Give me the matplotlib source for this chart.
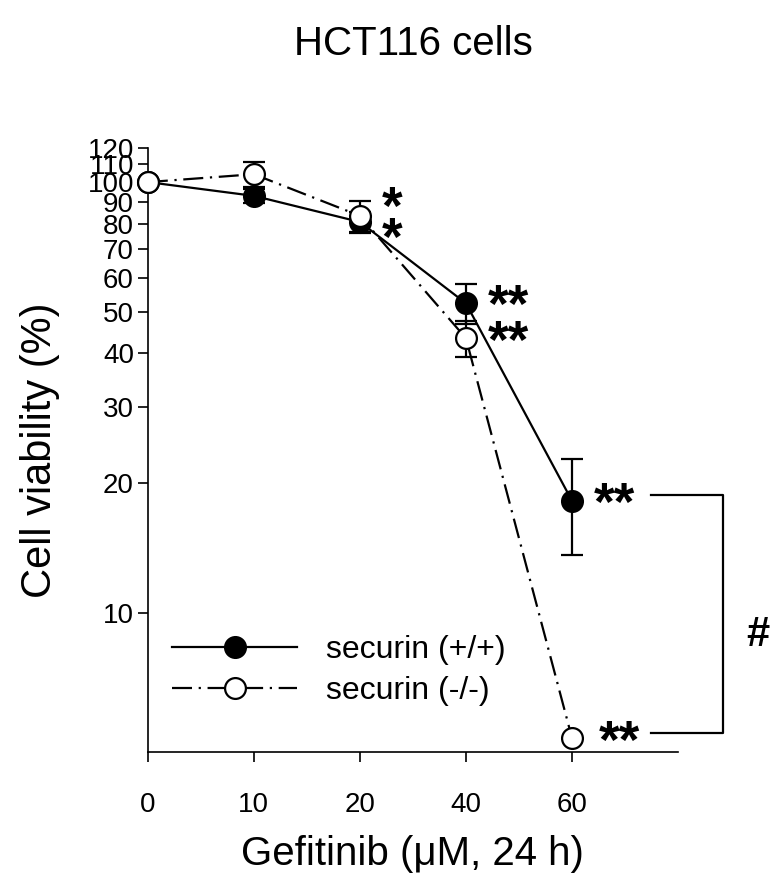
import numpy as np
import matplotlib
matplotlib.use("Agg")
import matplotlib.pyplot as plt
from matplotlib.lines import Line2D

plt.rcParams['font.family'] = ['Liberation Sans', 'DejaVu Sans']

doses = ['0', '10', '20', '40', '60']
wt_mean = [100, 92.9, 80.8, 52.3, 18.2]
wt_err = [0, 3.5, 4.6, 5.6, 4.6]
ko_mean = [100, 104.3, 83.5, 43.4, 5.12]
ko_err = [0, 7, 7, 4.2, 0]
yticks = [10, 20, 30, 40, 50, 60, 70, 80, 90, 100, 110, 120]

x = np.arange(len(doses))
dashdot = (0, (9, 3, 1, 3))

fig = plt.figure(figsize=(7.7, 8.83), dpi=100)
ax = fig.add_axes([0.192, 0.1484, 0.6885, 0.684])

ax.errorbar(x, wt_mean, yerr=wt_err, color='black', lw=1.6, marker='o',
            ms=15, mfc='black', mec='black', mew=1.6, capsize=8,
            elinewidth=1.6, capthick=1.6, clip_on=False, zorder=3)
ax.errorbar(x, ko_mean, yerr=ko_err, color='black', lw=1.6, marker='o',
            ms=15, mfc='white', mec='black', mew=1.6, capsize=8,
            elinewidth=1.6, capthick=1.6, ls=dashdot,
            clip_on=False, zorder=4)

ax.set_yscale('log')
ax.set_ylim(4.75, 120)
ax.set_xlim(0, 5)
ax.set_yticks(yticks)
ax.set_yticklabels([str(v) for v in yticks], fontsize=20)
ax.yaxis.set_minor_locator(matplotlib.ticker.NullLocator())
ax.set_xticks(x)
ax.set_xticklabels(doses, fontsize=20)
ax.tick_params(direction='out', length=7, width=1.2)
ax.tick_params(axis='x', pad=22)
ax.tick_params(axis='y', pad=3)
for s in ['top', 'right']:
    ax.spines[s].set_visible(False)
for s in ['left', 'bottom']:
    ax.spines[s].set_linewidth(1.2)

ax.set_ylabel('Cell viability (%)', fontsize=30, labelpad=20)
ax.set_xlabel('Gefitinib (\u03bcM, 24 h)', fontsize=29, labelpad=12)
fig.suptitle('HCT116 cells', fontsize=29, x=0.537, y=0.972)

# significance marks
star = dict(fontsize=38, fontweight='bold', ha='center', va='center',
            clip_on=False)
ax.text(2.3, 86, '*', **star)
ax.text(2.3, 73, '*', **star)
ax.text(3.4, 51, '**', **star)
ax.text(3.4, 42, '**', **star)
ax.text(4.4, 17.7, '**', **star)
ax.text(4.45, 4.95, '**', **star)

ax.plot([4.75, 5.42, 5.42, 4.75], [18.8, 18.8, 5.26, 5.26], color='black',
        lw=1.6, clip_on=False)
ax.text(5.75, 8.9, '#', fontsize=30, fontweight='bold', ha='center',
        va='center', clip_on=False)

handles = [
    Line2D([], [], color='black', lw=1.6, marker='o', ms=15, mfc='black',
           mec='black', mew=1.6),
    Line2D([], [], color='black', lw=1.6, marker='o', ms=15, mfc='white',
           mec='black', mew=1.6, ls=dashdot),
]
ax.legend(handles, ['securin (+/+)', 'securin (-/-)'], loc='lower left',
          bbox_to_anchor=(-0.008, 0.028), frameon=False, fontsize=23,
          handlelength=3.9, handletextpad=0.9, labelspacing=0.35)

fig.savefig('out.png', dpi=100)
